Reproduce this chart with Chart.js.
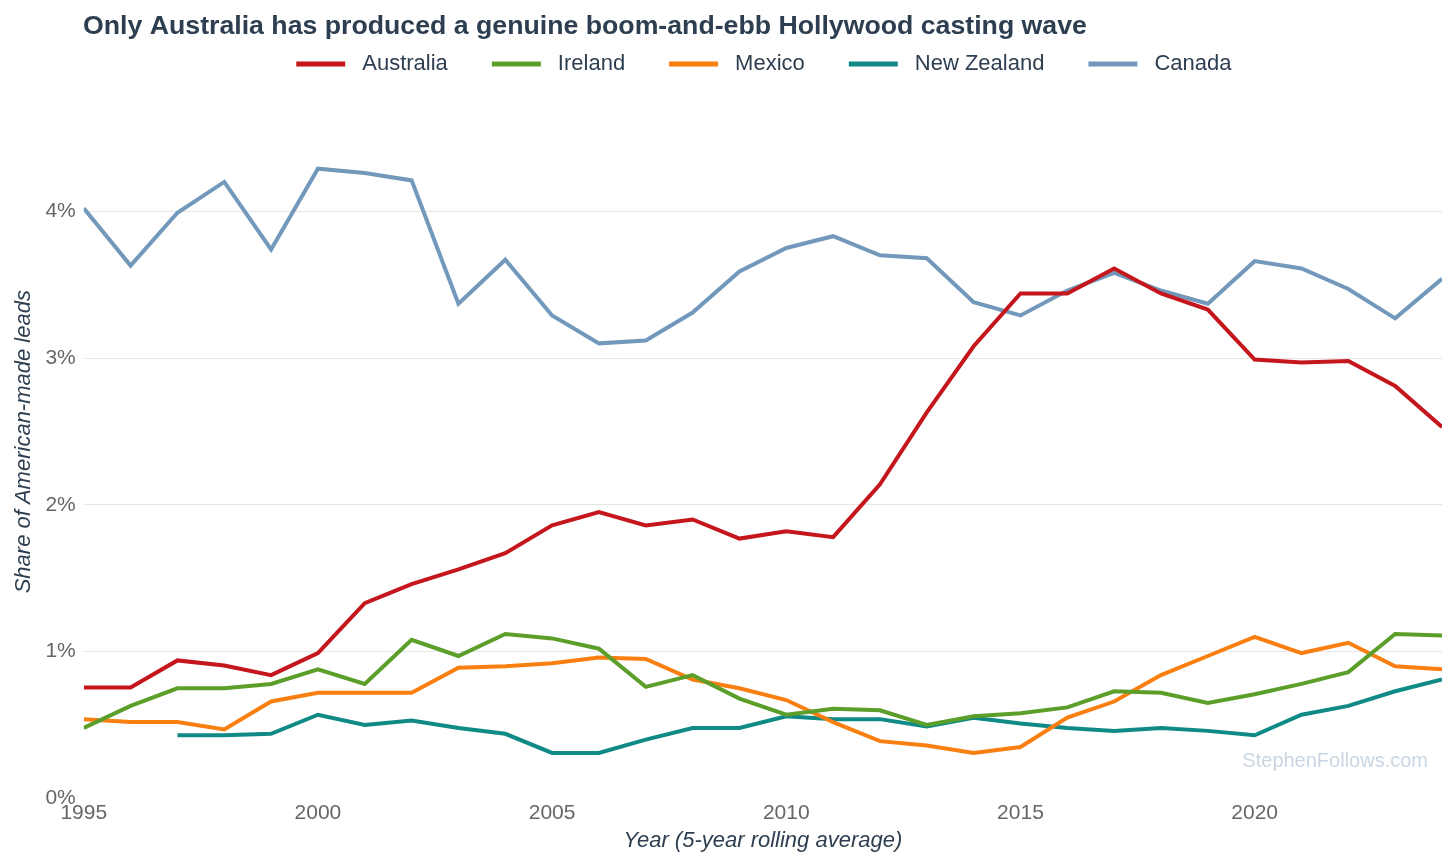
<!DOCTYPE html>
<html>
<head>
<meta charset="utf-8">
<script src="https://cdn.jsdelivr.net/npm/chart.js@4"></script>
<style>
html,body{margin:0;padding:0;background:#fff;}
#wrap{width:1456px;height:867px;position:relative;}
</style>
</head>
<body>
<div id="wrap"><canvas id="c" width="1456" height="867"></canvas></div>
<script>
const years = [1995,1996,1997,1998,1999,2000,2001,2002,2003,2004,2005,2006,2007,2008,2009,2010,2011,2012,2013,2014,2015,2016,2017,2018,2019,2020,2021,2022,2023,2024];
const australia = [0.755,0.755,0.94,0.905,0.84,0.99,1.33,1.46,1.56,1.67,1.86,1.95,1.86,1.90,1.77,1.82,1.78,2.14,2.63,3.08,3.44,3.44,3.61,3.44,3.33,2.99,2.97,2.98,2.81,2.53];
const ireland = [0.48,0.63,0.75,0.75,0.78,0.88,0.78,1.08,0.97,1.12,1.09,1.02,0.76,0.84,0.68,0.57,0.61,0.60,0.50,0.56,0.58,0.62,0.73,0.72,0.65,0.71,0.78,0.86,1.12,1.11];
const mexico = [0.54,0.52,0.52,0.47,0.66,0.72,0.72,0.72,0.89,0.90,0.92,0.96,0.95,0.81,0.75,0.67,0.52,0.39,0.36,0.31,0.35,0.55,0.66,0.84,0.97,1.10,0.99,1.06,0.90,0.88];
const newZealand = [null,null,0.43,0.43,0.44,0.57,0.50,0.53,0.48,0.44,0.31,0.31,0.40,0.48,0.48,0.56,0.54,0.54,0.49,0.55,0.51,0.48,0.46,0.48,0.46,0.43,0.57,0.63,0.73,0.81];
const canada = [4.02,3.63,3.99,4.20,3.74,4.29,4.26,4.21,3.37,3.67,3.29,3.10,3.12,3.31,3.59,3.75,3.83,3.70,3.68,3.38,3.29,3.46,3.58,3.46,3.37,3.66,3.61,3.47,3.27,3.54];
const yTicks = [0,1,2,3,4];
const xTicks = [1995,2000,2005,2010,2015,2020];

const seriesNames = ['Australia','Ireland','Mexico','New Zealand','Canada'];
const seriesData = [australia, ireland, mexico, newZealand, canada];
const seriesColors = ['#c4161c','#5b9f2a','#fa7f11','#108a86','#7299bb'];

const FONT = "'Liberation Sans', Arial, sans-serif";

const datasets = seriesNames.map((n,i)=>({
  label: n,
  data: years.map((y,j)=>({x:y, y:seriesData[i][j]})),
  borderColor: seriesColors[i],
  backgroundColor: seriesColors[i],
  borderWidth: 4,
  pointRadius: 0,
  tension: 0,
  spanGaps: false
}));

const extras = {
  id: 'extras',
  afterLayout(chart){
    const lg = chart.legend;
    const a = chart.chartArea;
    if (lg && a) {
      const shift = (a.left + a.right) / 2 - (lg.left + lg.right) / 2 - 2;
      lg.left += shift;
      lg.right += shift;
    }
  },
  afterDraw(chart){
    const ctx = chart.ctx;
    ctx.save();
    ctx.fillStyle = '#2c3e50';
    ctx.font = "bold 26.7px " + FONT;
    ctx.textAlign = 'left';
    ctx.textBaseline = 'alphabetic';
    ctx.fillText('Only Australia has produced a genuine boom-and-ebb Hollywood casting wave', 83, 34);
    ctx.fillStyle = '#c9d6e3';
    ctx.font = "20px " + FONT;
    ctx.textAlign = 'right';
    ctx.textBaseline = 'middle';
    ctx.fillText('StephenFollows.com', 1428, 761);
    ctx.restore();
  }
};

new Chart(document.getElementById('c'), {
  type: 'line',
  data: { datasets },
  plugins: [extras],
  options: {
    responsive: false,
    animation: false,
    layout: { padding: { top: 15, right: 14, left: 11, bottom: 13 } },
    plugins: {
      title: { display: false },
      tooltip: { enabled: false },
      legend: {
        position: 'top',
        align: 'center',
        labels: {
          font: { family: FONT, size: 22 },
          color: '#2c3e50',
          boxWidth: 61,
          boxHeight: 17,
          padding: 38,
          generateLabels(chart){
            return chart.data.datasets.map((d,i)=>({
              text: d.label,
              fillStyle: d.borderColor,
              strokeStyle: '#ffffff',
              lineWidth: 12,
              fontColor: '#2c3e50',
              datasetIndex: i,
              hidden: false
            }));
          }
        }
      }
    },
    scales: {
      x: {
        type: 'linear',
        min: 1995,
        max: 2024,
        afterBuildTicks(axis){ axis.ticks = xTicks.map(v=>({value:v})); },
        ticks: {
          font: { family: FONT, size: 21 },
          color: '#666666',
          padding: 2,
          maxRotation: 0,
          callback: v => String(v)
        },
        grid: { display: false, drawTicks: false },
        border: { display: false },
        title: {
          display: true,
          text: 'Year (5-year rolling average)',
          font: { family: FONT, size: 22, style: 'italic' },
          color: '#2c3e50',
          padding: { top: 0, bottom: 0 }
        }
      },
      y: {
        type: 'linear',
        min: 0,
        max: 4.86,
        afterBuildTicks(axis){ axis.ticks = yTicks.map(v=>({value:v})); },
        ticks: {
          font: { family: FONT, size: 21 },
          color: '#666666',
          padding: 8,
          callback: v => v + '%'
        },
        grid: {
          drawTicks: false,
          color: ctx => ctx.tick && ctx.tick.value === 0 ? 'rgba(0,0,0,0)' : '#e6e6e6',
          lineWidth: 1
        },
        border: { display: false },
        title: {
          display: true,
          text: 'Share of American-made leads',
          font: { family: FONT, size: 22, style: 'italic' },
          color: '#2c3e50',
          padding: { top: 0, bottom: 0 }
        }
      }
    }
  }
});
</script>
</body>
</html>
